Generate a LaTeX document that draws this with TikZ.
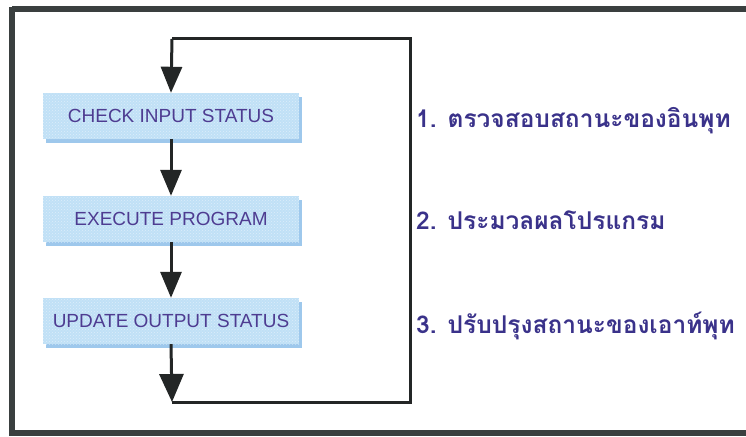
\documentclass[tikz,border=0pt]{standalone}
\usepackage{fontspec}
\setmainfont{Liberation Sans}
\newfontfamily\thaifont[Script=Thai]{Loma}
\usetikzlibrary{arrows.meta,shadows,patterns}
\definecolor{frameGray}{RGB}{58,63,63}
\definecolor{loopInk}{RGB}{35,38,38}
\definecolor{boxBlue}{RGB}{192,224,246}
\definecolor{boxEdge}{RGB}{158,200,236}
\definecolor{boxText}{RGB}{78,60,145}
\definecolor{noteText}{RGB}{58,50,138}
\tikzset{
  stepbox/.style={rectangle, minimum width=256pt, minimum height=46pt,
    inner sep=0pt, fill=boxBlue, text=boxText,
    font=\fontsize{19}{21}\selectfont,
    general shadow={fill=boxEdge, shadow xshift=3pt, shadow yshift=-4pt},
    postaction={pattern=crosshatch dots, pattern color=white, fill opacity=0.45}},
  flow/.style={line width=3pt, draw=loopInk, -{Triangle[width=21pt,length=26pt]}},
  loopline/.style={line width=3pt, draw=loopInk},
  note/.style={anchor=west, text=noteText, inner sep=0pt,
    font=\thaifont\bfseries\fontsize{24.5}{26}\selectfont}
}
\begin{document}
\begin{tikzpicture}[x=1pt,y=-1pt]
  \useasboundingbox (0,0) rectangle (746,436);
  \fill[white] (0,0) rectangle (746,436);
  % outer frame, right side runs past the page edge
  \draw[line width=6pt, frameGray] (12,9.5) -- (760,9.5)
        (12,432.5) -- (760,432.5) (12,7) -- (12,436);

  % process steps
  \node[stepbox] (b1) at (171,116) {CHECK INPUT STATUS};
  \node[stepbox] (b2) at (171,219) {EXECUTE PROGRAM};
  \node[stepbox] (b3) at (171,321) {UPDATE OUTPUT STATUS};

  % scan loop corners
  \coordinate (tl) at (172,39);
  \coordinate (tr) at (410,39);
  \coordinate (br) at (410,402);
  \coordinate (bl) at (172,402);

  \draw[flow] (tl) -- (b1.north);
  \draw[flow] (b1.south) -- (b2.north);
  \draw[flow] (b2.south) -- (b3.north);
  \draw[flow, -{Triangle[width=24pt,length=28pt]}] (b3.south) -- (bl);
  \draw[loopline] (bl) -- (br) -- (tr) -- (tl);

  % descriptions
  \node[note] (n1) at (416,121) {1. ตรวจสอบสถานะของอินพุท};
  \node[note] (n2) at (416,220) {2. ประมวลผลโปรแกรม};
  \node[note] (n3) at (416,326) {3. ปรับปรุงสถานะของเอาท์พุท};
\end{tikzpicture}
\end{document}
